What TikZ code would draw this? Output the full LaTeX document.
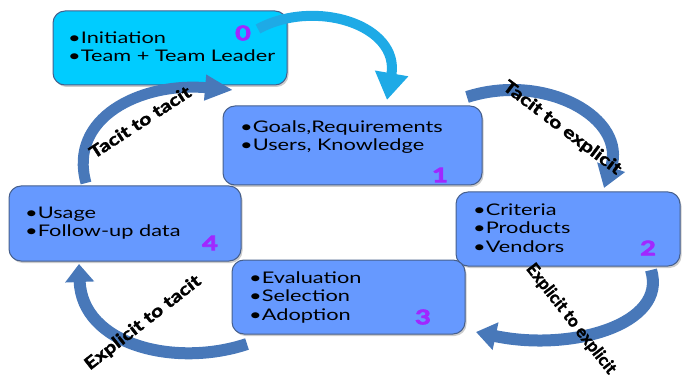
\documentclass[tikz,border=0pt]{standalone}
\usepackage{fontspec}
\setmainfont{Lato}
\newfontfamily\boxfont[FakeStretch=1.36]{Lato}
\newfontfamily\numfont[FakeStretch=1.35,FakeBold=4]{Lato}
\newfontfamily\lblfont[FakeStretch=1.25,FakeBold=2]{Lato}
\usetikzlibrary{arrows.meta,shadows}
\definecolor{boxblue}{RGB}{102,153,255}
\definecolor{boxcyan}{RGB}{0,204,255}
\definecolor{boxedge}{RGB}{70,95,140}
\definecolor{numpurple}{RGB}{160,40,255}
\definecolor{arrowblue}{RGB}{72,120,185}
\definecolor{arrowcyan}{RGB}{30,170,230}
\begin{document}
\begin{tikzpicture}[x=1pt,y=-1pt,
  stagebox/.style={rectangle, rounded corners=12pt, draw=boxedge, line width=1pt, fill=boxblue,
    drop shadow={shadow xshift=1.5pt,shadow yshift=-2pt,opacity=0.4}, inner sep=0pt},
  itemtext/.style={anchor=north west, align=left, inner sep=0pt,
    font=\boxfont\fontsize{16}{18.5}\selectfont, text=black},
  stagenum/.style={inner sep=0pt, font=\numfont\bfseries\fontsize{20}{20}\selectfont, text=numpurple},
  bandarrow/.style={draw=arrowblue, line width=12pt},
  flowlabel/.style={inner sep=0pt, font=\lblfont\bfseries\fontsize{17}{17}\selectfont, text=black}
]
\useasboundingbox (0,0) rectangle (682,379);

% boxes
\node[stagebox, fill=boxcyan, minimum width=234pt, minimum height=74pt] (b0) at (170,48) {};
\node[stagebox, minimum width=259pt, minimum height=79pt] (b1) at (352.5,145.5) {};
\node[stagebox, minimum width=224pt, minimum height=74pt] (b2) at (568,229) {};
\node[stagebox, minimum width=233pt, minimum height=74pt] (b3) at (348.5,297) {};
\node[stagebox, minimum width=232pt, minimum height=75pt] (b4) at (125,223.5) {};

% texts
\node[itemtext] (t0) at (68,31.5) {•Initiation\\•Team + Team Leader};
\node[itemtext] (t1) at (240,120.5) {•Goals,Requirements\\•Users, Knowledge};
\node[itemtext] (t2) at (473,203.5) {•Criteria\\•Products\\•Vendors};
\node[itemtext] (t3) at (249,271.5) {•Evaluation\\•Selection\\•Adoption};
\node[itemtext] (t4) at (25,206.5) {•Usage\\•Follow-up data};

\node[stagenum] (n0) at (243,33) {0};
\node[stagenum] (n1) at (440,175) {1};
\node[stagenum] (n2) at (648,248) {2};
\node[stagenum] (n3) at (423,317) {3};
\node[stagenum] (n4) at (210,243) {4};

% arrow end points
\coordinate (a0s) at (258,29);  \coordinate (a0e) at (387,100);
\coordinate (a1s) at (467,97);  \coordinate (a1e) at (604,188);
\coordinate (a2s) at (651,270); \coordinate (a2e) at (476,332);
\coordinate (a3s) at (247,344); \coordinate (a3e) at (79,264);
\coordinate (a4s) at (86,183);  \coordinate (a4e) at (233,90);

\draw[bandarrow, draw=arrowcyan, line width=10pt, -{Triangle[length=27pt,width=32pt]}]
  (a0s) .. controls (315,-2) and (400,25) .. (a0e);
\draw[bandarrow, -{Triangle[length=22pt,width=28pt]}]
  (a1s) .. controls (545,72) and (628,118) .. (a1e);
\draw[bandarrow, -{Triangle[length=20pt,width=27pt]}]
  (a2s) .. controls (668,325) and (570,352) .. (a2e);
\draw[bandarrow, -{Triangle[length=18pt,width=28pt]}]
  (a3s) .. controls (175,368) and (82,345) .. (a3e);
\draw[bandarrow, line width=11pt, -{Triangle[length=28pt,width=24pt]}]
  (a4s) .. controls (68,118) and (140,82) .. (a4e);

% labels
\node[flowlabel, rotate=33] (l40) at (140,122) {Tacit to tacit};
\node[flowlabel, rotate=-37] (l01) at (562,128) {Tacit to explicit};
\node[flowlabel, rotate=-52] (l23) at (571,319) {\scalebox{0.8}[1]{Explicit to explicit}};
\node[flowlabel, rotate=38] (l34) at (143,323) {Explicit to tacit};
\end{tikzpicture}
\end{document}
